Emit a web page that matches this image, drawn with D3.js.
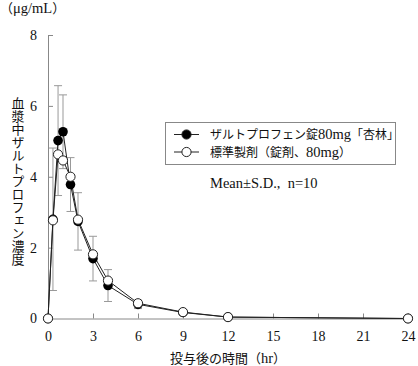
<!DOCTYPE html>
<html lang="ja">
<head>
  <meta charset="utf-8">
  <script src="https://d3js.org/d3.v7.min.js"></script>
  <style>
    body { margin: 0; background: #fff; }
    svg { display: block; }
    text { font-family: "Liberation Serif", "Noto Sans CJK JP", serif; fill: #111; }
  </style>
</head>
<body>
  <svg id="chart"></svg>
  <script>
    // sampling times (hr)
    var times = [0, 0.33, 0.67, 1, 1.5, 2, 3, 4, 6, 9, 12, 24];
    // test drug (filled)
    var testMean = [0, 2.8, 5.02, 5.27, 3.78, 2.74, 1.69, 0.93, 0.40, 0.17, 0.04, 0];
    var testSD = [0, 2.01, 1.55, 1.04, 0.76, 0.81, 0.63, 0.45, 0.12, 0.06, 0.02, 0];
    // reference drug (open)
    var refMean = [0, 2.77, 4.63, 4.46, 4.0, 2.79, 1.81, 1.07, 0.43, 0.18, 0.04, 0];

    var xTicks = [0, 3, 6, 9, 12, 15, 18, 21, 24];
    var yTicks = [0, 2, 4, 6, 8];
    var legendLabels = ['ザルトプロフェン錠80mg「杏林」', '標準製剤（錠剤、80mg）'];

    var width = 418, height = 366;
    var x = d3.scaleLinear().domain([0, 24]).range([48, 408]);
    var y = d3.scaleLinear().domain([0, 8]).range([318.5, 35]);

    var svg = d3.select('#chart').attr('width', width).attr('height', height);

    // mixed text: latin runs a bit bigger than the CJK ones
    function mixText(sel, str, cjkSize, latSize) {
      var runs = str.match(/[\u0020-\u00ff\u03bc]+|[^\u0020-\u00ff\u03bc]+/g);
      runs.forEach(function (r) {
        var lat = /^[\u0020-\u00ff\u03bc]/.test(r);
        sel.append('tspan').attr('font-size', lat ? latSize : cjkSize).text(r);
      });
      return sel;
    }

    // axes
    var xAxis = svg.append('g')
      .attr('transform', 'translate(0,' + y(0) + ')')
      .call(d3.axisBottom(x).tickValues(xTicks).tickSizeInner(-5).tickSizeOuter(0).tickPadding(13));
    var yAxis = svg.append('g')
      .attr('transform', 'translate(' + x(0) + ',0)')
      .call(d3.axisLeft(y).tickValues(yTicks).tickSizeInner(-5).tickSizeOuter(0).tickPadding(11));
    [xAxis, yAxis].forEach(function (g) {
      g.selectAll('path, line').attr('stroke', '#888');
      g.selectAll('text').attr('font-family', null).attr('font-size', 14).attr('fill', '#111');
    });

    // error bars (test drug)
    var eb = svg.append('g').attr('stroke', '#999').attr('stroke-width', 1);
    times.forEach(function (t, i) {
      if (!testSD[i]) return;
      var cx = x(t), y1 = y(testMean[i] + testSD[i]), y2 = y(Math.max(0, testMean[i] - testSD[i]));
      eb.append('line').attr('x1', cx).attr('x2', cx).attr('y1', y1).attr('y2', y2);
      eb.append('line').attr('x1', cx - 4).attr('x2', cx + 4).attr('y1', y1).attr('y2', y1);
      eb.append('line').attr('x1', cx - 4).attr('x2', cx + 4).attr('y1', y2).attr('y2', y2);
    });

    var line = d3.line().x(function (d) { return x(d[0]); }).y(function (d) { return y(d[1]); });
    var testPts = times.map(function (t, i) { return [t, testMean[i]]; });
    var refPts = times.map(function (t, i) { return [t, refMean[i]]; });

    svg.append('path').datum(testPts).attr('d', line)
      .attr('fill', 'none').attr('stroke', '#222').attr('stroke-width', 1);
    svg.append('path').datum(refPts).attr('d', line)
      .attr('fill', 'none').attr('stroke', '#222').attr('stroke-width', 1);

    svg.append('g').selectAll('circle').data(testPts).enter().append('circle')
      .attr('cx', function (d) { return x(d[0]); })
      .attr('cy', function (d) { return y(d[1]); })
      .attr('r', 4.8).attr('fill', '#000');
    svg.append('g').selectAll('circle').data(refPts).enter().append('circle')
      .attr('cx', function (d) { return x(d[0]); })
      .attr('cy', function (d) { return y(d[1]); })
      .attr('r', 4.6).attr('fill', '#fff').attr('stroke', '#222').attr('stroke-width', 1);

    // legend
    var lg = svg.append('g');
    lg.append('rect').attr('x', 165.5).attr('y', 122.5).attr('width', 230).attr('height', 42)
      .attr('fill', '#fff').attr('stroke', '#888');
    legendLabels.forEach(function (lab, i) {
      var ly = 134.5 + i * 17.5;
      lg.append('line').attr('x1', 174).attr('x2', 199).attr('y1', ly).attr('y2', ly)
        .attr('stroke', '#222');
      lg.append('circle').attr('cx', 186.5).attr('cy', ly).attr('r', 4.6)
        .attr('fill', i === 0 ? '#000' : '#fff').attr('stroke', '#222');
      mixText(lg.append('text').attr('x', 210).attr('y', ly + 4.5), lab, 12, 14.5);
    });

    svg.append('text').attr('x', 210).attr('y', 188).attr('font-size', 14.5)
      .text('Mean±S.D.,  n=10').style('white-space', 'pre');

    // axis titles
    mixText(svg.append('text').attr('x', 0).attr('y', 13), '（μg/mL）', 13, 14.5);
    svg.append('text').attr('x', 17).attr('y', 97).attr('font-size', 13)
      .style('writing-mode', 'vertical-rl').style('text-orientation', 'upright')
      .text('血漿中ザルトプロフェン濃度');
    mixText(svg.append('text').attr('x', 228).attr('y', 363).attr('text-anchor', 'middle'),
      '投与後の時間（hr）', 13, 14.5);
  </script>
</body>
</html>
